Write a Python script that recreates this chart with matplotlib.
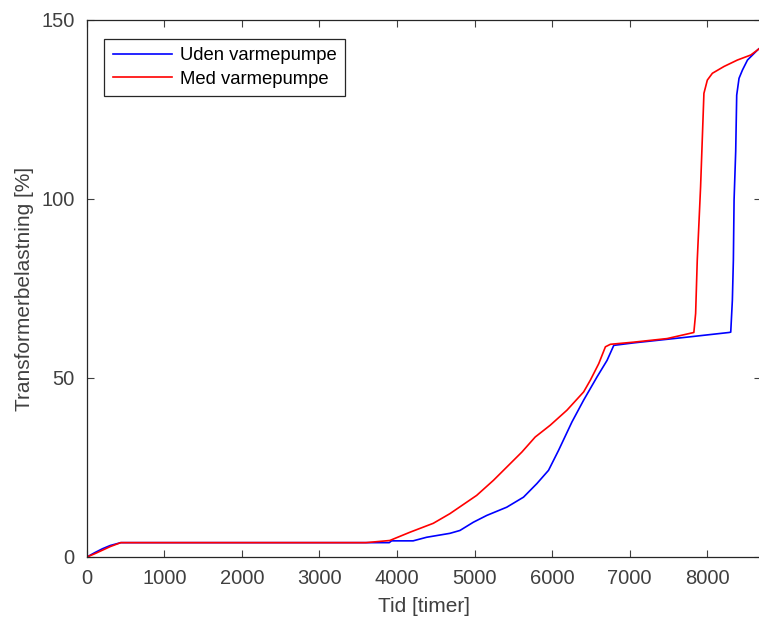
import matplotlib
matplotlib.use("Agg")
import matplotlib.pyplot as plt

# Varighedskurver
uden_x = [0, 100, 200, 300, 436, 3583, 3900, 3930, 4208, 4382, 4683, 4812, 4985, 5158, 5416, 5632,
          5805, 5955, 6085, 6257, 6408, 6581, 6710, 6797, 7054, 7701, 8284, 8306, 8327, 8340,
          8349, 8370, 8383, 8413, 8457, 8522, 8651, 8760]
uden_y = [0, 1.2, 2.3, 3.2, 4.0, 4.0, 4.0, 4.5, 4.5, 5.5, 6.6, 7.4, 9.7, 11.6, 13.9, 16.7,
          20.5, 24.2, 29.8, 37.7, 43.8, 50.3, 54.9, 59.1, 59.8, 61.3, 62.7, 62.8, 71.7, 82.9,
          99.7, 113.3, 129.0, 133.7, 136.0, 138.8, 141.6, 143.5]

med_x = [0, 100, 200, 300, 436, 3600, 3907, 4166, 4468, 4683, 5028, 5244, 5611, 5783, 5977, 6193,
         6408, 6495, 6603, 6689, 6753, 7054, 7485, 7830, 7853, 7874, 7917, 7960, 8004, 8069,
         8219, 8392, 8564, 8651, 8760]
med_y = [0, 0.9, 1.9, 2.9, 4.0, 4.0, 4.6, 6.9, 9.4, 12.1, 17.2, 21.4, 29.3, 33.5, 36.8, 41.0,
         46.1, 49.4, 54.0, 58.7, 59.4, 60.0, 61.0, 62.7, 68.0, 82.9, 103.4, 129.5, 133.2, 135.1,
         137.0, 138.8, 140.2, 141.6, 143.5]

xticks = [0, 1000, 2000, 3000, 4000, 5000, 6000, 7000, 8000]
yticks = [0, 50, 100, 150]

plt.rcParams["font.family"] = ["Liberation Sans", "DejaVu Sans"]
txt = "#404040"
ax_col = "#262626"

fig = plt.figure(figsize=(7.59, 6.23), dpi=100)
ax = fig.add_axes([0.1146, 0.106, 0.8884, 0.862])

ax.plot(uden_x, uden_y, color=(0, 0, 1), lw=1.2, label="Uden varmepumpe")
ax.plot(med_x, med_y, color=(1, 0, 0), lw=1.2, label="Med varmepumpe")

ax.set_xlim(0, 8700)
ax.set_ylim(0, 150)
ax.set_xticks(xticks)
ax.set_yticks(yticks)
ax.tick_params(direction="in", length=5, width=0.8, top=True, right=True,
               labelsize=14.5, colors=txt, pad=9)
for s in ax.spines.values():
    s.set_color(ax_col)
    s.set_linewidth(0.9)
ax.spines["right"].set_visible(False)

ax.set_xlabel("Tid [timer]", fontsize=15, color=txt, labelpad=6)
ax.set_ylabel("Transformerbelastning [%]", fontsize=15, color=txt, labelpad=5)

leg = ax.legend(loc="upper left", bbox_to_anchor=(0.012, 0.982), fontsize=13.3,
                fancybox=False, framealpha=1, edgecolor=ax_col, handlelength=3.2,
                handletextpad=0.45, borderpad=0.45, labelspacing=0.35)
leg.get_frame().set_linewidth(0.9)

fig.savefig("out.png", dpi=100)
